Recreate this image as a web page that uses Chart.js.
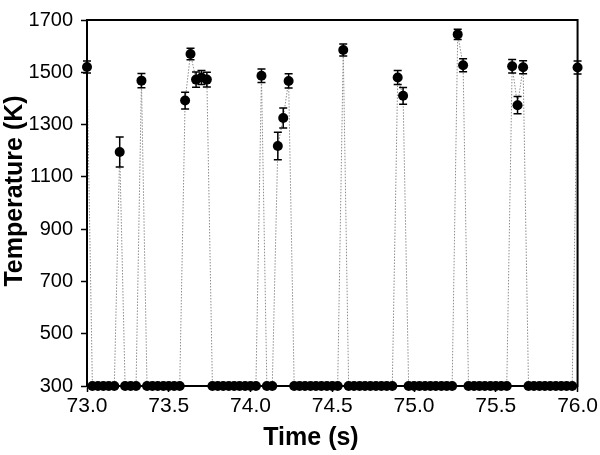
<!DOCTYPE html>
<html>
<head>
<meta charset="utf-8">
<script src="https://cdn.jsdelivr.net/npm/chart.js@4/dist/chart.umd.min.js"></script>
<style>
  body { margin: 0; background: #fff; }
  canvas { display: block; }
</style>
</head>
<body>
<canvas id="tempChart" width="600" height="455"></canvas>
<script>
// Sample times (s), 30 frames per second
const times = [
  73.000, 73.033, 73.067, 73.100, 73.133, 73.167, 73.200, 73.233, 73.267, 73.300,
  73.333, 73.367, 73.400, 73.433, 73.467, 73.500, 73.533, 73.567, 73.600, 73.633,
  73.667, 73.700, 73.733, 73.767, 73.800, 73.833, 73.867, 73.900, 73.933, 73.967,
  74.000, 74.033, 74.067, 74.100, 74.133, 74.167, 74.200, 74.233, 74.267, 74.300,
  74.333, 74.367, 74.400, 74.433, 74.467, 74.500, 74.533, 74.567, 74.600, 74.633,
  74.667, 74.700, 74.733, 74.767, 74.800, 74.833, 74.867, 74.900, 74.933, 74.967,
  75.000, 75.033, 75.067, 75.100, 75.133, 75.167, 75.200, 75.233, 75.267, 75.300,
  75.333, 75.367, 75.400, 75.433, 75.467, 75.500, 75.533, 75.567, 75.600, 75.633,
  75.667, 75.700, 75.733, 75.767, 75.800, 75.833, 75.867, 75.900, 75.933, 75.967,
  76.000
];

// Temperature (K)
const temps = [
  1520, 300, 300, 300, 300, 300, 1195, 300, 300, 300,
  1468, 300, 300, 300, 300, 300, 300, 300, 1392, 1570,
  1472, 1480, 1472, 300, 300, 300, 300, 300, 300, 300,
  300, 300, 1487, 300, 300, 1218, 1325, 1467, 300, 300,
  300, 300, 300, 300, 300, 300, 300, 1585, 300, 300,
  300, 300, 300, 300, 300, 300, 300, 1480, 1410, 300,
  300, 300, 300, 300, 300, 300, 300, 300, 1645, 1527,
  300, 300, 300, 300, 300, 300, 300, 300, 1523, 1374,
  1519, 300, 300, 300, 300, 300, 300, 300, 300, 300,
  1518
];

// Error (+/- K)
const errs = [
  23, 0, 0, 0, 0, 0, 57, 0, 0, 0,
  27, 0, 0, 0, 0, 0, 0, 0, 32, 22,
  29, 27, 28, 0, 0, 0, 0, 0, 0, 0,
  0, 0, 26, 0, 0, 53, 38, 27, 0, 0,
  0, 0, 0, 0, 0, 0, 0, 23, 0, 0,
  0, 0, 0, 0, 0, 0, 0, 27, 32, 0,
  0, 0, 0, 0, 0, 0, 0, 0, 20, 25,
  0, 0, 0, 0, 0, 0, 0, 0, 26, 33,
  25, 0, 0, 0, 0, 0, 0, 0, 0, 0,
  25
];

const xTicks = [73.0, 73.5, 74.0, 74.5, 75.0, 75.5, 76.0];
const yLabelled = [300, 500, 700, 900, 1100, 1300, 1500, 1700];

const FONT = "'Liberation Sans', Arial, sans-serif";

// error bars, frame and axis titles
const extrasPlugin = {
  id: 'extras',
  afterDatasetsDraw(chart) {
    const c = chart.ctx;
    const xs = chart.scales.x, ys = chart.scales.y;
    c.save();
    c.strokeStyle = '#000';
    c.lineWidth = 1.5;
    times.forEach((t, i) => {
      if (!errs[i]) return;
      const px = xs.getPixelForValue(t);
      const top = ys.getPixelForValue(temps[i] + errs[i]);
      const bot = ys.getPixelForValue(temps[i] - errs[i]);
      c.beginPath();
      c.moveTo(px, top); c.lineTo(px, bot);
      c.moveTo(px - 4, top); c.lineTo(px + 4, top);
      c.moveTo(px - 4, bot); c.lineTo(px + 4, bot);
      c.stroke();
    });
    const a = chart.chartArea;
    c.lineWidth = 2;
    c.strokeRect(a.left, a.top, a.right - a.left, a.bottom - a.top);

    // titles (Origin style placement, a bit left / up of centre)
    c.fillStyle = '#000';
    c.font = `bold 25px ${FONT}`;
    c.textAlign = 'center';
    c.textBaseline = 'middle';
    c.fillText('Time (s)', 311, 438);
    c.translate(15, 191);
    c.rotate(-Math.PI / 2);
    c.fillText('Temperature (K)', 0, 0);
    c.restore();
  }
};

new Chart(document.getElementById('tempChart'), {
  type: 'line',
  data: {
    datasets: [{
      data: times.map((t, i) => ({ x: t, y: temps[i] })),
      borderColor: '#8c8c8c',
      borderWidth: 1,
      borderDash: [1.5, 1.5],
      pointRadius: 5,
      pointBackgroundColor: '#000',
      pointBorderColor: '#000',
      pointBorderWidth: 0,
      tension: 0,
      clip: false
    }]
  },
  options: {
    responsive: false,
    animation: false,
    layout: { padding: { left: 0, right: 20, top: 8, bottom: 0 } },
    plugins: { legend: { display: false }, tooltip: { enabled: false } },
    scales: {
      x: {
        type: 'linear',
        min: 73, max: 76,
        afterBuildTicks: (s) => { s.ticks = xTicks.map(v => ({ value: v })); },
        afterFit: (s) => { s.height = 69; },
        ticks: {
          color: '#000',
          font: { family: FONT, size: 21 },
          padding: 2,
          maxRotation: 0,
          callback: (v) => Number(v).toFixed(1)
        },
        grid: { drawOnChartArea: false, drawTicks: true, tickLength: 6, tickColor: '#000', tickWidth: 1.5 },
        border: { color: '#000', width: 2 },
        title: { display: false }
      },
      y: {
        min: 300, max: 1700,
        afterFit: (s) => { s.width = 87; },
        ticks: {
          stepSize: 100,
          color: '#000',
          font: { family: FONT, size: 20 },
          padding: 8,
          callback: (v) => yLabelled.includes(v) ? String(v) : ''
        },
        grid: { drawOnChartArea: false, drawTicks: true, tickLength: 6, tickColor: '#000', tickWidth: 1.5 },
        border: { color: '#000', width: 2 },
        title: { display: false }
      }
    }
  },
  plugins: [extrasPlugin]
});
</script>
</body>
</html>
